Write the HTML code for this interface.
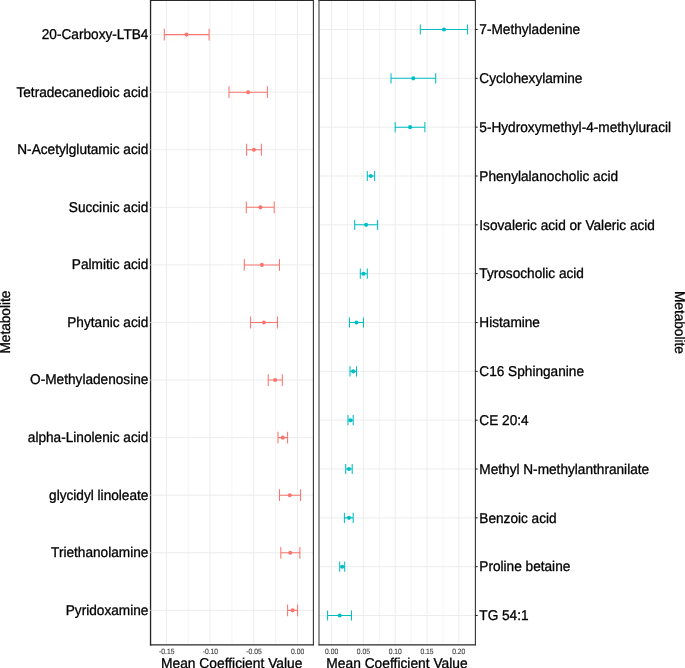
<!DOCTYPE html>
<html><head><meta charset="utf-8"><title>Metabolite coefficients</title>
<style>html,body{margin:0;padding:0;background:#fff;overflow:hidden}svg{display:block}text{font-family:"Liberation Sans",sans-serif;text-rendering:geometricPrecision;font-kerning:normal;}#wrap{width:685px;height:668px;will-change:transform;transform:translateZ(0);}</style>
</head><body><div id="wrap">
<svg width="685" height="668" viewBox="0 0 685 668">
<rect x="0" y="0" width="685" height="668" fill="#ffffff"/>
<g stroke="#EBEBEB" fill="none">
<line x1="166.40" y1="0.1" x2="166.40" y2="644.75" stroke-width="0.9"/>
<line x1="188.23" y1="0.1" x2="188.23" y2="644.75" stroke-width="0.55"/>
<line x1="210.06" y1="0.1" x2="210.06" y2="644.75" stroke-width="0.9"/>
<line x1="231.89" y1="0.1" x2="231.89" y2="644.75" stroke-width="0.55"/>
<line x1="253.72" y1="0.1" x2="253.72" y2="644.75" stroke-width="0.9"/>
<line x1="275.55" y1="0.1" x2="275.55" y2="644.75" stroke-width="0.55"/>
<line x1="297.38" y1="0.1" x2="297.38" y2="644.75" stroke-width="0.9"/>
<line x1="150.55" y1="34.60" x2="313.4" y2="34.60" stroke-width="0.9"/>
<line x1="150.55" y1="92.18" x2="313.4" y2="92.18" stroke-width="0.9"/>
<line x1="150.55" y1="149.75" x2="313.4" y2="149.75" stroke-width="0.9"/>
<line x1="150.55" y1="207.33" x2="313.4" y2="207.33" stroke-width="0.9"/>
<line x1="150.55" y1="264.90" x2="313.4" y2="264.90" stroke-width="0.9"/>
<line x1="150.55" y1="322.48" x2="313.4" y2="322.48" stroke-width="0.9"/>
<line x1="150.55" y1="380.05" x2="313.4" y2="380.05" stroke-width="0.9"/>
<line x1="150.55" y1="437.63" x2="313.4" y2="437.63" stroke-width="0.9"/>
<line x1="150.55" y1="495.20" x2="313.4" y2="495.20" stroke-width="0.9"/>
<line x1="150.55" y1="552.78" x2="313.4" y2="552.78" stroke-width="0.9"/>
<line x1="150.55" y1="610.35" x2="313.4" y2="610.35" stroke-width="0.9"/>
</g>
<g stroke="#F8766D" stroke-width="1.05" fill="none">
<path d="M164.30 28.70V40.50M164.30 34.60H209.10M209.10 28.70V40.50"/>
<path d="M229.00 86.28V98.08M229.00 92.18H267.40M267.40 86.28V98.08"/>
<path d="M246.60 143.85V155.65M246.60 149.75H261.40M261.40 143.85V155.65"/>
<path d="M246.30 201.43V213.23M246.30 207.33H274.20M274.20 201.43V213.23"/>
<path d="M244.30 259.00V270.80M244.30 264.90H279.50M279.50 259.00V270.80"/>
<path d="M250.60 316.58V328.38M250.60 322.48H277.50M277.50 316.58V328.38"/>
<path d="M268.20 374.15V385.95M268.20 380.05H282.30M282.30 374.15V385.95"/>
<path d="M278.00 431.73V443.53M278.00 437.63H287.60M287.60 431.73V443.53"/>
<path d="M279.50 489.30V501.10M279.50 495.20H300.60M300.60 489.30V501.10"/>
<path d="M280.80 546.88V558.68M280.80 552.78H299.90M299.90 546.88V558.68"/>
<path d="M287.60 604.45V616.25M287.60 610.35H297.60M297.60 604.45V616.25"/>
</g>
<g fill="#F8766D">
<circle cx="186.50" cy="34.60" r="2.05"/>
<circle cx="248.10" cy="92.18" r="2.05"/>
<circle cx="253.90" cy="149.75" r="2.05"/>
<circle cx="260.40" cy="207.33" r="2.05"/>
<circle cx="261.90" cy="264.90" r="2.05"/>
<circle cx="263.90" cy="322.48" r="2.05"/>
<circle cx="275.20" cy="380.05" r="2.05"/>
<circle cx="282.80" cy="437.63" r="2.05"/>
<circle cx="289.80" cy="495.20" r="2.05"/>
<circle cx="290.30" cy="552.78" r="2.05"/>
<circle cx="292.60" cy="610.35" r="2.05"/>
</g>
<g fill="none" stroke-linecap="square">
<line x1="150.55" y1="0.5" x2="313.4" y2="0.5" stroke="#282828" stroke-width="1.15"/>
<line x1="150.55" y1="644.75" x2="313.4" y2="644.75" stroke="#282828" stroke-width="1.25"/>
<line x1="150.55" y1="0.5" x2="150.55" y2="644.75" stroke="#222222" stroke-width="1.3"/>
<line x1="313.4" y1="0.5" x2="313.4" y2="644.75" stroke="#333333" stroke-width="1.1"/>
</g>
<g stroke="#EBEBEB" fill="none">
<line x1="331.60" y1="0.1" x2="331.60" y2="644.75" stroke-width="0.9"/>
<line x1="347.50" y1="0.1" x2="347.50" y2="644.75" stroke-width="0.55"/>
<line x1="363.40" y1="0.1" x2="363.40" y2="644.75" stroke-width="0.9"/>
<line x1="379.30" y1="0.1" x2="379.30" y2="644.75" stroke-width="0.55"/>
<line x1="395.20" y1="0.1" x2="395.20" y2="644.75" stroke-width="0.9"/>
<line x1="411.10" y1="0.1" x2="411.10" y2="644.75" stroke-width="0.55"/>
<line x1="427.00" y1="0.1" x2="427.00" y2="644.75" stroke-width="0.9"/>
<line x1="442.90" y1="0.1" x2="442.90" y2="644.75" stroke-width="0.55"/>
<line x1="458.80" y1="0.1" x2="458.80" y2="644.75" stroke-width="0.9"/>
<line x1="319.0" y1="29.50" x2="475.4" y2="29.50" stroke-width="0.9"/>
<line x1="319.0" y1="78.34" x2="475.4" y2="78.34" stroke-width="0.9"/>
<line x1="319.0" y1="127.17" x2="475.4" y2="127.17" stroke-width="0.9"/>
<line x1="319.0" y1="176.00" x2="475.4" y2="176.00" stroke-width="0.9"/>
<line x1="319.0" y1="224.84" x2="475.4" y2="224.84" stroke-width="0.9"/>
<line x1="319.0" y1="273.68" x2="475.4" y2="273.68" stroke-width="0.9"/>
<line x1="319.0" y1="322.51" x2="475.4" y2="322.51" stroke-width="0.9"/>
<line x1="319.0" y1="371.35" x2="475.4" y2="371.35" stroke-width="0.9"/>
<line x1="319.0" y1="420.18" x2="475.4" y2="420.18" stroke-width="0.9"/>
<line x1="319.0" y1="469.01" x2="475.4" y2="469.01" stroke-width="0.9"/>
<line x1="319.0" y1="517.85" x2="475.4" y2="517.85" stroke-width="0.9"/>
<line x1="319.0" y1="566.69" x2="475.4" y2="566.69" stroke-width="0.9"/>
<line x1="319.0" y1="615.52" x2="475.4" y2="615.52" stroke-width="0.9"/>
</g>
<g stroke="#00BFC4" stroke-width="1.05" fill="none">
<path d="M420.30 24.40V34.60M420.30 29.50H467.60M467.60 24.40V34.60"/>
<path d="M391.00 73.24V83.44M391.00 78.34H435.70M435.70 73.24V83.44"/>
<path d="M395.20 122.07V132.27M395.20 127.17H424.90M424.90 122.07V132.27"/>
<path d="M367.30 170.91V181.10M367.30 176.00H374.60M374.60 170.91V181.10"/>
<path d="M354.70 219.74V229.94M354.70 224.84H377.60M377.60 219.74V229.94"/>
<path d="M360.30 268.57V278.78M360.30 273.68H367.30M367.30 268.57V278.78"/>
<path d="M349.50 317.41V327.61M349.50 322.51H363.50M363.50 317.41V327.61"/>
<path d="M350.00 366.25V376.45M350.00 371.35H356.50M356.50 366.25V376.45"/>
<path d="M348.00 415.08V425.28M348.00 420.18H353.20M353.20 415.08V425.28"/>
<path d="M345.70 463.91V474.12M345.70 469.01H352.20M352.20 463.91V474.12"/>
<path d="M344.40 512.75V522.95M344.40 517.85H353.20M353.20 512.75V522.95"/>
<path d="M339.70 561.59V571.79M339.70 566.69H344.70M344.70 561.59V571.79"/>
<path d="M327.60 610.42V620.62M327.60 615.52H351.50M351.50 610.42V620.62"/>
</g>
<g fill="#00BFC4">
<circle cx="443.95" cy="29.50" r="2.05"/>
<circle cx="413.30" cy="78.34" r="2.05"/>
<circle cx="410.10" cy="127.17" r="2.05"/>
<circle cx="370.80" cy="176.00" r="2.05"/>
<circle cx="366.10" cy="224.84" r="2.05"/>
<circle cx="363.50" cy="273.68" r="2.05"/>
<circle cx="356.50" cy="322.51" r="2.05"/>
<circle cx="353.20" cy="371.35" r="2.05"/>
<circle cx="350.50" cy="420.18" r="2.05"/>
<circle cx="349.00" cy="469.01" r="2.05"/>
<circle cx="349.00" cy="517.85" r="2.05"/>
<circle cx="342.20" cy="566.69" r="2.05"/>
<circle cx="339.70" cy="615.52" r="2.05"/>
</g>
<g fill="none" stroke-linecap="square">
<line x1="319.0" y1="0.5" x2="475.4" y2="0.5" stroke="#282828" stroke-width="1.15"/>
<line x1="319.0" y1="644.75" x2="475.4" y2="644.75" stroke="#282828" stroke-width="1.25"/>
<line x1="319.0" y1="0.5" x2="319.0" y2="644.75" stroke="#444444" stroke-width="1.1"/>
<line x1="475.4" y1="0.5" x2="475.4" y2="644.75" stroke="#333333" stroke-width="1.1"/>
</g>
<g stroke="#222222" stroke-width="1.0">
<line x1="475.4" y1="29.50" x2="477.7" y2="29.50"/>
<line x1="475.4" y1="78.34" x2="477.7" y2="78.34"/>
<line x1="475.4" y1="127.17" x2="477.7" y2="127.17"/>
<line x1="475.4" y1="176.00" x2="477.7" y2="176.00"/>
<line x1="475.4" y1="224.84" x2="477.7" y2="224.84"/>
<line x1="475.4" y1="273.68" x2="477.7" y2="273.68"/>
<line x1="475.4" y1="322.51" x2="477.7" y2="322.51"/>
<line x1="475.4" y1="371.35" x2="477.7" y2="371.35"/>
<line x1="475.4" y1="420.18" x2="477.7" y2="420.18"/>
<line x1="475.4" y1="469.01" x2="477.7" y2="469.01"/>
<line x1="475.4" y1="517.85" x2="477.7" y2="517.85"/>
<line x1="475.4" y1="566.69" x2="477.7" y2="566.69"/>
<line x1="475.4" y1="615.52" x2="477.7" y2="615.52"/>
</g>
<g stroke="#EBEBEB" stroke-width="0.9" stroke-opacity="0.75">
<line x1="149.7" y1="34.60" x2="151.4" y2="34.60"/>
<line x1="149.7" y1="92.18" x2="151.4" y2="92.18"/>
<line x1="149.7" y1="149.75" x2="151.4" y2="149.75"/>
<line x1="149.7" y1="207.33" x2="151.4" y2="207.33"/>
<line x1="149.7" y1="264.90" x2="151.4" y2="264.90"/>
<line x1="149.7" y1="322.48" x2="151.4" y2="322.48"/>
<line x1="149.7" y1="380.05" x2="151.4" y2="380.05"/>
<line x1="149.7" y1="437.63" x2="151.4" y2="437.63"/>
<line x1="149.7" y1="495.20" x2="151.4" y2="495.20"/>
<line x1="149.7" y1="552.78" x2="151.4" y2="552.78"/>
<line x1="149.7" y1="610.35" x2="151.4" y2="610.35"/>
</g>
<g font-size="13.65" fill="#000" stroke="#000" stroke-width="0.3" stroke-linejoin="round">
<text transform="translate(148.4 39.00) scale(1 1.045)" text-anchor="end">20-Carboxy-LTB4</text>
<text transform="translate(148.4 96.58) scale(1 1.045)" text-anchor="end">Tetradecanedioic acid</text>
<text transform="translate(148.4 154.15) scale(1 1.045)" text-anchor="end">N-Acetylglutamic acid</text>
<text transform="translate(148.4 211.73) scale(1 1.045)" text-anchor="end">Succinic acid</text>
<text transform="translate(148.4 269.30) scale(1 1.045)" text-anchor="end">Palmitic acid</text>
<text transform="translate(148.4 326.88) scale(1 1.045)" text-anchor="end">Phytanic acid</text>
<text transform="translate(148.4 384.45) scale(1 1.045)" text-anchor="end">O-Methyladenosine</text>
<text transform="translate(148.4 442.03) scale(1 1.045)" text-anchor="end">alpha-Linolenic acid</text>
<text transform="translate(148.4 499.60) scale(1 1.045)" text-anchor="end">glycidyl linoleate</text>
<text transform="translate(148.4 557.18) scale(1 1.045)" text-anchor="end">Triethanolamine</text>
<text transform="translate(148.4 614.75) scale(1 1.045)" text-anchor="end">Pyridoxamine</text>
<text transform="translate(479.3 34.20) scale(1 1.045)">7-Methyladenine</text>
<text transform="translate(479.3 83.04) scale(1 1.045)">Cyclohexylamine</text>
<text transform="translate(479.3 131.87) scale(1 1.045)">5-Hydroxymethyl-4-methyluracil</text>
<text transform="translate(479.3 180.70) scale(1 1.045)">Phenylalanocholic acid</text>
<text transform="translate(479.3 229.54) scale(1 1.045)">Isovaleric acid or Valeric acid</text>
<text transform="translate(479.3 278.38) scale(1 1.045)">Tyrosocholic acid</text>
<text transform="translate(479.3 327.21) scale(1 1.045)">Histamine</text>
<text transform="translate(479.3 376.05) scale(1 1.045)">C16 Sphinganine</text>
<text transform="translate(479.3 424.88) scale(1 1.045)">CE 20:4</text>
<text transform="translate(479.3 473.71) scale(1 1.045)">Methyl N-methylanthranilate</text>
<text transform="translate(479.3 522.55) scale(1 1.045)">Benzoic acid</text>
<text transform="translate(479.3 571.39) scale(1 1.045)">Proline betaine</text>
<text transform="translate(479.3 620.22) scale(1 1.045)">TG 54:1</text>
<text transform="translate(231.7 667.6) scale(1 1.035)" text-anchor="middle" font-size="13.8">Mean Coefficient Value</text>
<text transform="translate(397.0 667.6) scale(1 1.035)" text-anchor="middle" font-size="13.8">Mean Coefficient Value</text>
<text transform="translate(10.0 322.1) rotate(-90) scale(1 1.045)" text-anchor="middle">Metabolite</text>
<text transform="translate(674.7 322.4) rotate(90) scale(1 1.045)" text-anchor="middle">Metabolite</text>
</g>
<g font-size="6.75" fill="#404040" stroke="#404040" stroke-width="0.12" text-anchor="middle">
<text transform="translate(166.70 653.75) scale(1 1.13)">-0.15</text>
<text transform="translate(210.36 653.75) scale(1 1.13)">-0.10</text>
<text transform="translate(254.02 653.75) scale(1 1.13)">-0.05</text>
<text transform="translate(297.68 653.75) scale(1 1.13)">0.00</text>
<text transform="translate(331.60 653.75) scale(1 1.13)">0.00</text>
<text transform="translate(363.40 653.75) scale(1 1.13)">0.05</text>
<text transform="translate(395.20 653.75) scale(1 1.13)">0.10</text>
<text transform="translate(427.00 653.75) scale(1 1.13)">0.15</text>
<text transform="translate(458.80 653.75) scale(1 1.13)">0.20</text>
</g>
</svg></div></body></html>
